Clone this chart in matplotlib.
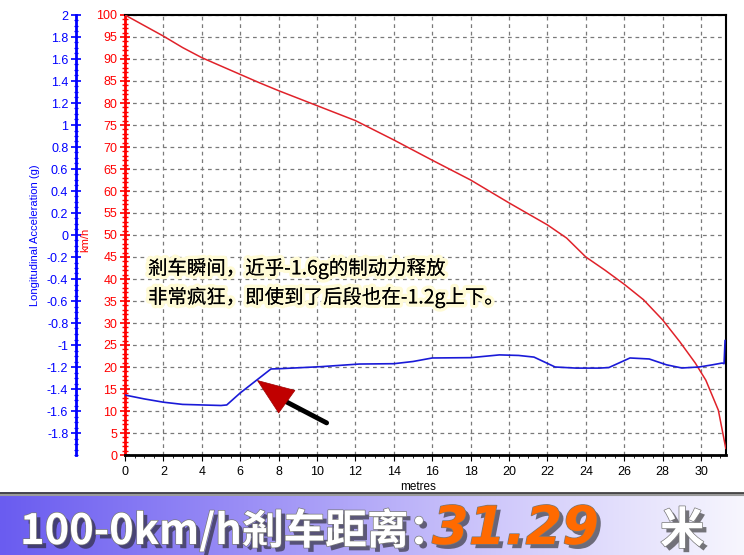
import numpy as np
import matplotlib
matplotlib.use("Agg")
import matplotlib.pyplot as plt
import matplotlib.patheffects as pe
from matplotlib.colors import LinearSegmentedColormap
from matplotlib.ticker import MultipleLocator

plt.rcParams['font.family'] = ['Liberation Sans', 'DejaVu Sans']

# speed (km/h) against distance (m)
red_x = [0, 1, 2, 3, 4, 5, 6, 7, 8, 9, 10, 12, 14, 16, 18, 20, 22, 23, 24, 25,
         26, 27, 28, 28.9, 29.7, 30.25, 30.9, 31.29]
red_v = [100, 97.6, 95.2, 92.6, 90.3, 88.4, 86.5, 84.6, 82.8, 81.1, 79.4, 76.0,
         71.6, 67.0, 62.5, 57.3, 52.3, 49.3, 45.0, 42.0, 38.8, 35.3, 30.7, 25.7,
         20.9, 17.0, 10.2, 1.5]

# longitudinal acceleration (g) against distance (m)
blue_x = [0, 1, 2, 3, 4, 5, 5.3, 6.0, 7.6, 8.1, 10.2, 12.2, 14, 15, 16, 18, 19.5,
          20.5, 21.3, 22.4, 23.5, 24.7, 25.2, 26.3, 27.3, 28.2, 29.0, 29.9, 30.6,
          31.1, 31.2, 31.25]
blue_g = [-1.455, -1.49, -1.52, -1.54, -1.545, -1.55, -1.545, -1.436, -1.218,
          -1.215, -1.197, -1.173, -1.17, -1.15, -1.118, -1.115, -1.09, -1.095,
          -1.11, -1.2, -1.21, -1.21, -1.205, -1.118, -1.127, -1.18, -1.209, -1.2,
          -1.18, -1.164, -1.17, -0.96]

g_ticks = [-1.8, -1.6, -1.4, -1.2, -1, -0.8, -0.6, -0.4, -0.2, 0,
           0.2, 0.4, 0.6, 0.8, 1, 1.2, 1.4, 1.6, 1.8, 2]

note = "剎车瞬间，近乎-1.6g的制动力释放\n非常疯狂，即使到了后段也在-1.2g上下。"
title_a = "100-0km/h剎车距离："
title_b = "31.29"
title_c = "米"

W, H = 744, 555
fig = plt.figure(figsize=(W / 100, H / 100), dpi=100)
fig.patch.set_facecolor('white')

# main axes, km/h on the left edge
ax = fig.add_axes([125 / W, 1 - 455 / H, (726 - 125) / W, (455 - 15) / H])
ax.set_xlim(0, 31.3)
ax.set_ylim(0, 100)
ax.xaxis.set_major_locator(MultipleLocator(2))
ax.xaxis.set_minor_locator(MultipleLocator(0.5))
ax.yaxis.set_major_locator(MultipleLocator(5))
ax.yaxis.set_minor_locator(MultipleLocator(1))
ax.grid(True, which='major', linestyle=(0, (3, 3)), color='#7a7a7a', lw=0.9)
ax.tick_params(axis='y', which='major', direction='inout', length=7, width=1.2,
               color='red', labelcolor='red', labelsize=9, pad=2)
ax.tick_params(axis='y', which='minor', direction='inout', length=4, width=1,
               color='red')
ax.tick_params(axis='x', which='major', direction='out', length=4, labelsize=9, pad=4)
ax.tick_params(axis='x', which='minor', direction='out', length=2.5)
ax.spines['left'].set_color('red')
ax.spines['left'].set_linewidth(2)
ax.spines['bottom'].set_linewidth(2)
ax.spines['top'].set_linewidth(1.5)
ax.spines['right'].set_linewidth(1.5)
ax.plot(red_x, red_v, color='#e0222a', lw=1.1, zorder=3)
ax.set_ylabel('km/h', color='red', fontsize=8)
ax.yaxis.set_label_coords((90 - 125) / 601, 0.49)
ax.set_xlabel('metres', fontsize=8.5)
ax.xaxis.set_label_coords((418 - 125) / 601, -0.058)

# acceleration axis further left
ax2 = ax.twinx()
ax2.yaxis.set_ticks_position('left')
ax2.yaxis.set_label_position('left')
ax2.spines['left'].set_position(('outward', 49 * 0.72))
ax2.spines['left'].set_color('blue')
ax2.spines['left'].set_linewidth(2)
for s in ['right', 'top', 'bottom']:
    ax2.spines[s].set_visible(False)
ax2.set_yticks(g_ticks)
ax2.set_yticklabels(['%g' % v for v in g_ticks])
ax2.yaxis.set_minor_locator(MultipleLocator(0.05))
ax2.set_ylim(-2, 2)
ax2.tick_params(axis='y', which='major', direction='inout', length=7, width=1.2,
                color='blue', labelcolor='blue', labelsize=9, pad=2)
ax2.tick_params(axis='y', which='minor', direction='inout', length=3.5, width=0.9,
                color='blue')
ax2.plot(blue_x, blue_g, color='#1a1ad8', lw=1.2, zorder=4)
ax2.set_ylabel('Longitudinal Acceleration (g)', color='blue', fontsize=8)
ax2.yaxis.set_label_coords((40 - 125) / 601, 0.5)

# arrow pointing at the ramp
ax.annotate('', xy=(8.0, 13.0), xytext=(10.5, 7.3),
            arrowprops=dict(arrowstyle='-', color='black', lw=3.5,
                            shrinkA=0, shrinkB=0), zorder=6)
ax.annotate('', xy=(6.86, 17.05), xytext=(8.4, 12.2),
            arrowprops=dict(arrowstyle='-|>,head_length=2.6,head_width=1.0',
                            facecolor='#c00000', edgecolor='#a00000', lw=0.5,
                            shrinkA=0, shrinkB=0), zorder=7)

# yellow-glow note
fig.text(148 / W, 1 - 283 / H, note, fontsize=14, linespacing=1.45,
         family=['Noto Sans CJK SC', 'DejaVu Sans'], color='black',
         ha='left', va='center',
         path_effects=[pe.withStroke(linewidth=5, foreground='#fffbd6'),
                       pe.Normal()], zorder=10)

# bottom banner
bax = fig.add_axes([0, 0, 1, 63 / H])
cmap = LinearSegmentedColormap.from_list('band', ['#6a5cf0', '#9b8ff6', '#cfc8fb', '#f7f6fe'])
bax.imshow(np.linspace(0, 1, 256)[None, :], aspect='auto', cmap=cmap,
           extent=[0, 1, 0, 1])
bax.axhline(0.985, color='#444444', lw=2)
bax.axhline(0.955, color='#9a9a9a', lw=1.5)
bax.set_xlim(0, 1)
bax.set_ylim(0, 1)
bax.axis('off')

shadow = [pe.withSimplePatchShadow(offset=(3, -3), shadow_rgbFace='#222222', alpha=0.6),
          pe.Stroke(linewidth=1, foreground='#777777'), pe.Normal()]
base_y = 1 - 544 / H
fig.text(20 / W, base_y, title_a, fontsize=30, weight='bold', color='white',
         family=['Noto Sans CJK SC', 'DejaVu Sans'], va='baseline',
         path_effects=shadow)
fig.text(432 / W, base_y, title_b, fontsize=38, weight='bold', style='oblique',
         color='#ff6a00', family='DejaVu Sans', va='baseline', path_effects=shadow)
fig.text(660 / W, base_y, title_c, fontsize=32, weight='bold', color='white',
         family=['Noto Sans CJK SC', 'DejaVu Sans'], va='baseline',
         path_effects=shadow)

fig.savefig('out.png', dpi=100)
